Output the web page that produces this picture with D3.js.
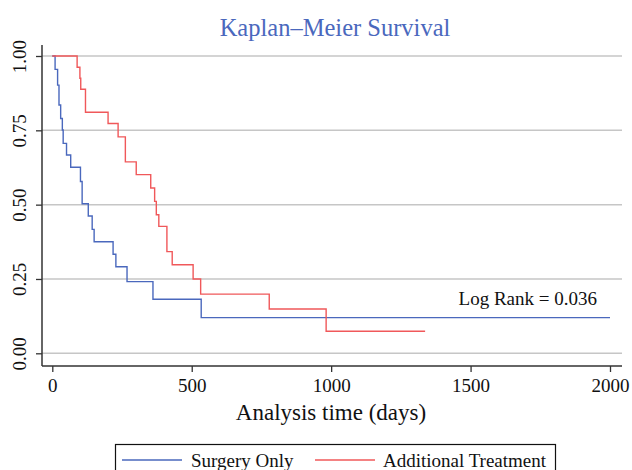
<!DOCTYPE html>
<html>
<head>
<meta charset="utf-8">
<script src="https://cdn.jsdelivr.net/npm/d3@7"></script>
<style>
    body { margin: 0; background: #fff; }
    svg text { font-family: "Liberation Serif", "Times New Roman", serif; }
</style>
</head>
<body>
<div id="chart"></div>
<script>
// survival curves: step times (days) and the level after each step
var surgeryTimes = [0, 10, 19, 24, 30, 36, 39, 51, 66, 101, 107, 129, 143, 150, 218, 228, 268, 361, 534, 2000];
var surgerySurv  = [1, 0.955, 0.902, 0.835, 0.790, 0.751, 0.706, 0.667, 0.626, 0.578, 0.503, 0.462, 0.417, 0.375, 0.333, 0.291, 0.241, 0.182, 0.120, 0.120];
var treatTimes = [0, 89, 99, 102, 119, 200, 236, 262, 301, 353, 367, 373, 382, 411, 430, 505, 532, 778, 982, 1337];
var treatSurv  = [1, 0.962, 0.925, 0.888, 0.811, 0.773, 0.728, 0.644, 0.601, 0.556, 0.511, 0.466, 0.427, 0.342, 0.298, 0.250, 0.199, 0.149, 0.074, 0.074];

var seriesNames = ['Surgery Only', 'Additional Treatment'];
var xTicks = [0, 500, 1000, 1500, 2000];
var yTicks = [0, 0.25, 0.5, 0.75, 1];
var logRank = 'Log Rank = 0.036';

var width = 632, height = 470;
var colors = ['#4a68bd', '#f0585a'];

var svg = d3.select('#chart').append('svg')
    .attr('width', width)
    .attr('height', height);

var x = d3.scaleLinear().domain([0, 2000]).range([52.3, 610]);
var y = d3.scaleLinear().domain([0, 1]).range([353.3, 56]);

var axisLeftX = 42, axisBottomY = 366, plotRight = 622;

// title
svg.append('text')
    .attr('x', 335)
    .attr('y', 36)
    .attr('text-anchor', 'middle')
    .attr('fill', '#4a68bd')
    .style('font-size', '24.5px')
    .text('Kaplan\u2013Meier Survival');

// gridlines
svg.append('g').selectAll('line')
    .data(yTicks)
    .enter().append('line')
    .attr('x1', axisLeftX)
    .attr('x2', plotRight)
    .attr('y1', function (d) { return y(d); })
    .attr('y2', function (d) { return y(d); })
    .attr('stroke', '#c6c6c6')
    .attr('stroke-width', 1.5);

// y axis
var yAxis = d3.axisLeft(y)
    .tickValues(yTicks)
    .tickSize(6)
    .tickSizeOuter(0)
    .tickFormat(d3.format('.2f'));
var yAxisG = svg.append('g')
    .attr('transform', 'translate(' + axisLeftX + ',0)')
    .call(yAxis);
yAxisG.select('.domain').remove();
yAxisG.append('line')
    .attr('x1', 0).attr('x2', 0)
    .attr('y1', 45).attr('y2', axisBottomY)
    .attr('stroke', '#333').attr('stroke-width', 1.5);
yAxisG.selectAll('.tick line').attr('stroke', '#333').attr('stroke-width', 1.3);
yAxisG.selectAll('.tick text')
    .attr('x', 0).attr('y', 0).attr('dy', 0)
    .attr('text-anchor', 'middle')
    .attr('transform', 'translate(-16,0) rotate(-90)')
    .attr('fill', '#111')
    .style('font-size', '19px');

// x axis
var xAxis = d3.axisBottom(x)
    .tickValues(xTicks)
    .tickSize(6)
    .tickSizeOuter(0)
    .tickFormat(d3.format('d'));
var xAxisG = svg.append('g')
    .attr('transform', 'translate(0,' + axisBottomY + ')')
    .call(xAxis);
xAxisG.select('.domain').remove();
xAxisG.append('line')
    .attr('x1', axisLeftX).attr('x2', plotRight)
    .attr('y1', 0).attr('y2', 0)
    .attr('stroke', '#333').attr('stroke-width', 1.5);
xAxisG.selectAll('.tick line').attr('stroke', '#333').attr('stroke-width', 1.3);
xAxisG.selectAll('.tick text')
    .attr('y', 26).attr('dy', 0)
    .attr('fill', '#111')
    .style('font-size', '19px');

svg.append('text')
    .attr('x', 331)
    .attr('y', 420)
    .attr('text-anchor', 'middle')
    .attr('fill', '#111')
    .style('font-size', '23px')
    .text('Analysis time (days)');

// survival curves
var line = d3.line()
    .curve(d3.curveStepAfter)
    .x(function (d) { return x(d.t); })
    .y(function (d) { return y(d.s); });

var curves = [
    surgeryTimes.map(function (t, i) { return {t: t, s: surgerySurv[i]}; }),
    treatTimes.map(function (t, i) { return {t: t, s: treatSurv[i]}; })
];

svg.append('g').selectAll('path')
    .data(curves)
    .enter().append('path')
    .attr('d', line)
    .attr('fill', 'none')
    .attr('stroke', function (d, i) { return colors[i]; })
    .attr('stroke-width', 1.4);

svg.append('text')
    .attr('x', 597)
    .attr('y', 305)
    .attr('text-anchor', 'end')
    .attr('fill', '#111')
    .style('font-size', '19px')
    .text(logRank);

// legend
var legend = svg.append('g');
legend.append('rect')
    .attr('x', 115.5).attr('y', 444.5)
    .attr('width', 440).attr('height', 40)
    .attr('fill', '#fff')
    .attr('stroke', '#111')
    .attr('stroke-width', 1.2);
var legendX = [[122, 182, 191], [315, 375, 383]];
seriesNames.forEach(function (name, i) {
    legend.append('line')
        .attr('x1', legendX[i][0]).attr('x2', legendX[i][1])
        .attr('y1', 460).attr('y2', 460)
        .attr('stroke', colors[i])
        .attr('stroke-width', 1.4);
    legend.append('text')
        .attr('x', legendX[i][2])
        .attr('y', 467)
        .attr('fill', '#111')
        .style('font-size', '19px')
        .text(name);
});
</script>
</body>
</html>
